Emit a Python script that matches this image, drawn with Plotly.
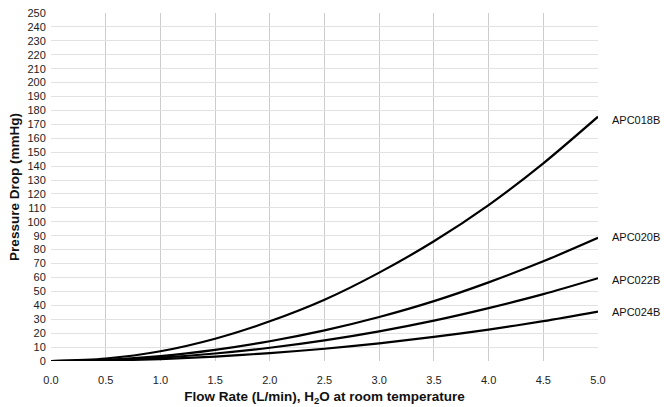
import plotly.graph_objects as go

# flow rate (L/min) and pressure drop (mmHg)
flow = [0.0, 0.5, 1.0, 1.5, 2.0, 2.5, 3.0, 3.5, 4.0, 4.5, 5.0]
apc018b = [0, 1.8, 7, 16, 28.5, 44, 63.5, 86, 112, 142, 175.5]
apc020b = [0, 0.9, 3.5, 8, 14.2, 22, 31.6, 43, 56.5, 71.6, 88.5]
apc022b = [0, 0.6, 2.4, 5.4, 9.5, 14.8, 21.3, 29, 38, 48, 59.5]
apc024b = [0, 0.4, 1.4, 3.2, 5.7, 8.8, 12.7, 17.3, 22.6, 28.6, 35.5]

series = {"APC018B": apc018b, "APC020B": apc020b,
          "APC022B": apc022b, "APC024B": apc024b}
label_y = {"APC018B": 173, "APC020B": 89, "APC022B": 58, "APC024B": 35}

x_ticks = [0.0, 0.5, 1.0, 1.5, 2.0, 2.5, 3.0, 3.5, 4.0, 4.5, 5.0]
y_ticks = list(range(0, 251, 10))

FONT = "Liberation Sans, Arial, sans-serif"

fig = go.Figure()
for name, vals in series.items():
    fig.add_trace(go.Scatter(
        x=flow, y=vals, mode="lines", name=name,
        line=dict(color="black", width=2.2, shape="spline", smoothing=0.8),
        showlegend=False, cliponaxis=False,
    ))
    fig.add_annotation(
        x=5.0, y=label_y[name], xref="x", yref="y", text=name,
        showarrow=False, xanchor="left", xshift=12,
        font=dict(family=FONT, size=11, color="#111"),
    )

fig.update_layout(
    width=664, height=407,
    margin=dict(l=51, r=66, t=13, b=46, autoexpand=False),
    paper_bgcolor="white", plot_bgcolor="white",
    font=dict(family=FONT, size=11, color="#222"),
    xaxis=dict(
        range=[0, 5.0], tickvals=x_ticks,
        ticktext=[f"{v:.1f}" for v in x_ticks],
        showgrid=True, gridcolor="#cccccc", gridwidth=1,
        zeroline=False, showline=False, automargin=False,
        ticks="outside", ticklen=9, tickcolor="rgba(0,0,0,0)",
        tickfont=dict(size=11, color="#222"),
        title=dict(text="<b>Flow Rate (L/min), H<sub>2</sub>O at room temperature</b>",
                   font=dict(size=13.5, color="#111"), standoff=6),
    ),
    yaxis=dict(
        range=[0, 250], tickvals=y_ticks,
        showgrid=True, gridcolor="#e2e2e2", gridwidth=1,
        zeroline=False, showline=False, automargin=False,
        ticks="outside", ticklen=2, tickcolor="rgba(0,0,0,0)",
        tickfont=dict(size=11, color="#222"),
        title=dict(text="<b>Pressure Drop (mmHg)</b>",
                   font=dict(size=13.5, color="#111"), standoff=4),
    ),
)

# drop the browser's default 8px body margin so the figure fills the window
fig.write_html("out.html", config={"displayModeBar": False},
               post_script="document.body.style.margin='0';"
                           "document.body.style.overflow='hidden';")
